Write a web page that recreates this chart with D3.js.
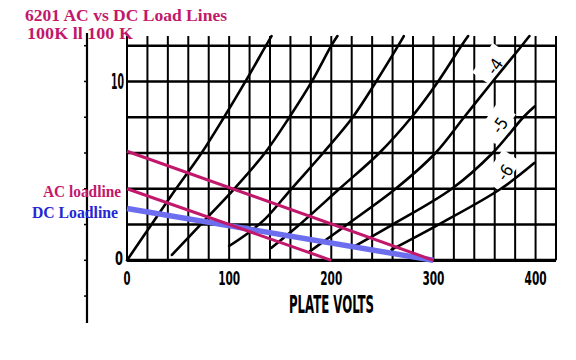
<!DOCTYPE html>
<html><head><meta charset="utf-8">
<script src="https://cdn.jsdelivr.net/npm/d3@7"></script>
<style>html,body{margin:0;padding:0;background:#fff;} svg{display:block;}</style>
</head><body><svg id="chart" width="576" height="360"></svg>
<script>
// ---- data ----
const voltTickLabels = [0, 100, 200, 300, 400];
const currentTickLabels = [0, 10];
const gridVolts = [0,20,40,60,80,100,120,140,160,180,200,220,240,260,280,300,320,340,360,380,400,420];
const gridCurrents = [0, 2, 4, 6, 8, 10, 12];
const leftRuleTicks = [-2, 0, 2, 4, 6, 8, 10, 12];

const curveG0 = [[0,0],[24,2],[48,4],[73,6],[95,8],[116,10],[136,12],[141.5,12.54]];
const curveG1 = [[44,0.3],[72,2],[105,4],[135,6],[159,8],[181,10],[200,12],[206,12.54]];
const curveG2 = [[100,0.8],[118,1.5],[135,2.3],[161,4],[192,6],[221,8],[244,10],[265.5,12],[271,12.54]];
const curveG3 = [[141.5,0.7],[167,1.9],[208,4],[247,6],[278.5,8],[304.6,10],[327.4,12],[334,12.54]];
const curveG4 = [[179,0.5],[213,1.9],[263,4],[302,6],[330,8],[358,10],[386.5,12],[394,12.54]];
const curveG5 = [[220,0.7],[260,2],[318,4],[358,6],[388,8],[399,8.6]];
const curveG6 = [[259,0.6],[305,2],[366,4],[399,5.45]];
const biasLabels = ["-4", "-5", "-6"];

const acLoadUpper = [[0,6.1],[300,0]];
const acLoadLower = [[0,4.0],[200,0]];
const dcLoad = [[0,2.9],[300,0]];

const titleLines = ["6201 AC vs DC Load Lines", "100K ll 100 K"];
const xAxisTitle = "PLATE VOLTS";
const acLabel = "AC loadline";
const dcLabel = "DC Loadline";

// ---- layout ----
const svg = d3.select("#chart");
svg.append("rect").attr("width",576).attr("height",360).attr("fill","#fff");

const x = d3.scaleLinear().domain([0,420]).range([127,556]);
const y = d3.scaleLinear().domain([0,12]).range([260.3,45.7]);
const topI = 12.54;

const magenta = "#c2186b";
const blueLine = "#6d6df0";
const blueText = "#2626d4";

// grid verticals
svg.append("g").selectAll("line").data(gridVolts).join("line")
  .attr("x1", d => x(d)).attr("x2", d => x(d))
  .attr("y1", y(topI)).attr("y2", y(0))
  .attr("stroke", "#000").attr("stroke-width", 2);

// grid horizontals
svg.append("g").selectAll("line").data(gridCurrents).join("line")
  .attr("x1", x(0)).attr("x2", x(420))
  .attr("y1", d => y(d)).attr("y2", d => y(d))
  .attr("stroke", "#000").attr("stroke-width", d => d === 0 ? 3.2 : 2.4);

// bias labels with white gaps
const labelAnchors = [[360,10.85],[365,7.55],[370,4.9]];
const lg = svg.append("g").selectAll("g").data(biasLabels).join("g")
  .attr("transform", (d,i) => `translate(${x(labelAnchors[i][0])},${y(labelAnchors[i][1])}) rotate(-55)`);
lg.append("rect").attr("x",-18).attr("y",-15).attr("width",36).attr("height",22).attr("fill","#fff");
lg.append("text").text(d => d)
  .attr("text-anchor","middle").attr("dominant-baseline","central")
  .attr("font-family","'DejaVu Sans Condensed','DejaVu Sans',sans-serif")
  .attr("font-size",17)
  .attr("fill","#000");

// bias curves
const line = d3.line().x(d => x(d[0])).y(d => y(d[1])).curve(d3.curveCatmullRom.alpha(0.5));
const curves = [curveG0, curveG1, curveG2, curveG3, curveG4, curveG5, curveG6];
svg.append("g").selectAll("path").data(curves).join("path")
  .attr("d", line).attr("fill","none").attr("stroke","#000")
  .attr("stroke-width", 2.6).attr("stroke-linecap","round");

// load lines
const straight = d3.line().x(d => x(d[0])).y(d => y(d[1]));
svg.append("path").attr("d", straight(dcLoad)).attr("stroke", blueLine)
  .attr("stroke-width", 5.5).attr("fill","none");
svg.append("g").selectAll("path").data([acLoadUpper, acLoadLower]).join("path")
  .attr("d", straight).attr("stroke", magenta).attr("stroke-width", 3).attr("fill","none");

// left rule with small ticks
svg.append("line").attr("x1",87).attr("x2",87).attr("y1",33).attr("y2",323)
  .attr("stroke","#000").attr("stroke-width",2.2);
svg.append("g").selectAll("line").data(leftRuleTicks).join("line")
  .attr("x1",84).attr("x2",88).attr("y1", d => y(d)).attr("y2", d => y(d))
  .attr("stroke","#000").attr("stroke-width",1.5);

// tick labels
const numFont = "'DejaVu Sans Condensed','DejaVu Sans',sans-serif";
svg.append("g").selectAll("text").data(voltTickLabels).join("text")
  .attr("x", d => x(d)).attr("y", 285)
  .attr("text-anchor","middle")
  .attr("font-family", numFont).attr("font-size", 20).attr("font-weight","bold")
  .attr("textLength", d => String(d).length === 1 ? 7 : 22)
  .attr("lengthAdjust","spacingAndGlyphs")
  .text(d => d);
svg.append("g").selectAll("text").data(currentTickLabels).join("text")
  .attr("x", d => d === 0 ? 123 : 124).attr("y", d => d === 0 ? 265 : y(d) + 8)
  .attr("text-anchor","end")
  .attr("font-family", numFont).attr("font-size", d => d === 0 ? 19 : 21).attr("font-weight","bold")
  .attr("textLength", d => String(d).length === 1 ? 8 : 13)
  .attr("lengthAdjust","spacingAndGlyphs")
  .text(d => d);

svg.append("text").attr("x",289).attr("y",313)
  .attr("font-family", numFont).attr("font-size", 24).attr("font-weight","bold")
  .attr("textLength", 85).attr("lengthAdjust","spacingAndGlyphs")
  .text(xAxisTitle);

// titles
const serif = "'Liberation Serif','DejaVu Serif',serif";
svg.append("g").selectAll("text").data(titleLines).join("text")
  .attr("x", (d,i) => i === 0 ? 25 : 27).attr("y", (d,i) => i === 0 ? 20.5 : 38.6)
  .attr("font-family", serif).attr("font-weight","bold").attr("font-size", 16)
  .attr("fill", magenta)
  .attr("textLength", (d,i) => i === 0 ? 202 : 106).attr("lengthAdjust","spacingAndGlyphs")
  .text(d => d);

svg.append("text").attr("x",121).attr("y",196.5).attr("text-anchor","end")
  .attr("font-family", serif).attr("font-weight","bold").attr("font-size", 16)
  .attr("fill", magenta).attr("textLength", 78).attr("lengthAdjust","spacingAndGlyphs")
  .text(acLabel);
svg.append("text").attr("x",118).attr("y",217.5).attr("text-anchor","end")
  .attr("font-family", serif).attr("font-weight","bold").attr("font-size", 16)
  .attr("fill", blueText).attr("textLength", 86).attr("lengthAdjust","spacingAndGlyphs")
  .text(dcLabel);
</script>
</body></html>
